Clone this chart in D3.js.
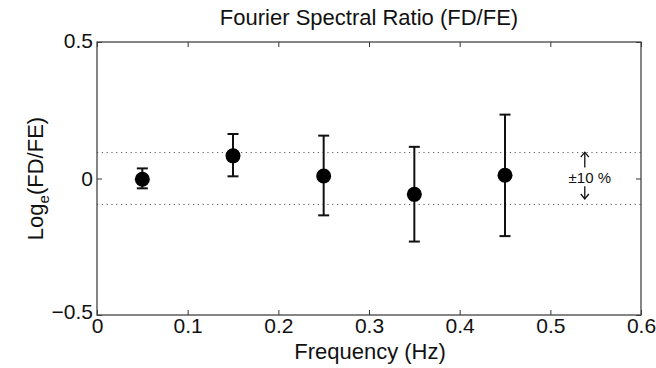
<!DOCTYPE html>
<html><head><meta charset="utf-8">
<script src="https://cdn.jsdelivr.net/npm/d3@7"></script>
<style>body{margin:0;background:#fff}text{font-family:"Liberation Sans",Arial,sans-serif}</style>
</head><body><svg id="c" width="656" height="368"></svg>
<script>
const freq = [0.05, 0.15, 0.25, 0.35, 0.45];
const ratio = [-0.003, 0.083, 0.009, -0.058, 0.012];
const errLow = [-0.036, 0.008, -0.135, -0.231, -0.211];
const errHigh = [0.037, 0.163, 0.157, 0.116, 0.234];
const refLines = [0.095, -0.095];
const xTicks = [0, 0.1, 0.2, 0.3, 0.4, 0.5, 0.6];
const yTicks = [-0.5, 0, 0.5];

const svg = d3.select("#c");
const L = 97, R = 641, T = 42, B = 315;
const x = d3.scaleLinear().domain([0, 0.6]).range([L, R]);
const y = d3.scaleLinear().domain([-0.5, 0.5]).range([B, T]);
const fmt = v => v === 0 ? "0" : (v < 0 ? "\u2212" + Math.abs(v) : String(v));

// reference dotted lines
svg.selectAll(".ref").data(refLines).enter().append("line")
  .attr("x1", L).attr("x2", R).attr("y1", d => y(d)).attr("y2", d => y(d))
  .attr("stroke", "#555").attr("stroke-width", 1).attr("stroke-dasharray", "1.2,3.6");

// axes
const ax = (g, axis) => { g.call(axis); g.select(".domain").remove(); g.selectAll("line").attr("stroke", "#333"); };
const bottom = svg.append("g").attr("transform", `translate(0,${B})`)
  .call(g => ax(g, d3.axisBottom(x).tickValues(xTicks).tickSize(-5).tickPadding(3).tickFormat(fmt)));
bottom.selectAll("text").attr("font-size", 21).attr("fill", "#111");
svg.append("g").attr("transform", `translate(0,${T})`)
  .call(g => ax(g, d3.axisTop(x).tickValues(xTicks).tickSize(-5).tickFormat("")));
const left = svg.append("g").attr("transform", `translate(${L},0)`)
  .call(g => ax(g, d3.axisLeft(y).tickValues(yTicks).tickSize(-5).tickPadding(4).tickFormat(fmt)));
left.selectAll("text").attr("font-size", 21).attr("fill", "#111");
svg.append("g").attr("transform", `translate(${R},0)`)
  .call(g => ax(g, d3.axisRight(y).tickValues(yTicks).tickSize(-5).tickFormat("")));
left.selectAll(".tick text").filter(d => d === -0.5).attr("dy", "0.15em");
left.selectAll(".tick text").filter(d => d === 0.5).attr("dy", "0.25em");

svg.append("rect").attr("x", L).attr("y", T).attr("width", R - L).attr("height", B - T)
  .attr("fill", "none").attr("stroke", "#444").attr("stroke-width", 1.3);

// error bars
const data = freq.map((f, i) => ({f, v: ratio[i], lo: errLow[i], hi: errHigh[i]}));
const eb = svg.selectAll(".eb").data(data).enter().append("g");
eb.append("line").attr("x1", d => x(d.f)).attr("x2", d => x(d.f))
  .attr("y1", d => y(d.lo)).attr("y2", d => y(d.hi)).attr("stroke", "#111").attr("stroke-width", 2);
eb.append("line").attr("x1", d => x(d.f) - 5.5).attr("x2", d => x(d.f) + 5.5)
  .attr("y1", d => y(d.lo)).attr("y2", d => y(d.lo)).attr("stroke", "#111").attr("stroke-width", 2);
eb.append("line").attr("x1", d => x(d.f) - 5.5).attr("x2", d => x(d.f) + 5.5)
  .attr("y1", d => y(d.hi)).attr("y2", d => y(d.hi)).attr("stroke", "#111").attr("stroke-width", 2);
eb.append("circle").attr("cx", d => x(d.f)).attr("cy", d => y(d.v)).attr("r", 7.5).attr("fill", "#000");

// annotation arrows
const ax0 = x(0.538);
const arrow = (y1, y2) => {
  svg.append("line").attr("x1", ax0).attr("x2", ax0).attr("y1", y1).attr("y2", y2)
    .attr("stroke", "#111").attr("stroke-width", 1.3);
  const dir = y2 < y1 ? 1 : -1;
  svg.append("path").attr("d", `M${ax0-4},${y2+dir*5}L${ax0},${y2}L${ax0+4},${y2+dir*5}`)
    .attr("fill", "none").attr("stroke", "#111").attr("stroke-width", 1.3);
};
arrow(y(0.04), y(0.1) + 1);
arrow(y(-0.028), y(-0.075));
svg.append("text").attr("x", ax0 + 5).attr("y", y(-0.018)).attr("text-anchor", "middle")
  .attr("font-size", 15).attr("fill", "#111").text("\u00b110 %");

// titles
svg.append("text").attr("x", (L + R) / 2).attr("y", 25).attr("text-anchor", "middle")
  .attr("font-size", 22).attr("fill", "#111").text("Fourier Spectral Ratio (FD/FE)");
svg.append("text").attr("x", (L + R) / 2 + 1).attr("y", 359).attr("text-anchor", "middle")
  .attr("font-size", 22).attr("fill", "#111").text("Frequency (Hz)");
const yl = svg.append("text").attr("transform", `translate(43,${(T + B) / 2}) rotate(-90)`)
  .attr("text-anchor", "middle").attr("font-size", 22).attr("fill", "#111");
yl.append("tspan").text("Log");
yl.append("tspan").attr("font-size", 15).attr("dy", 6).text("e");
yl.append("tspan").attr("dy", -6).text("(FD/FE)");
</script></body></html>
